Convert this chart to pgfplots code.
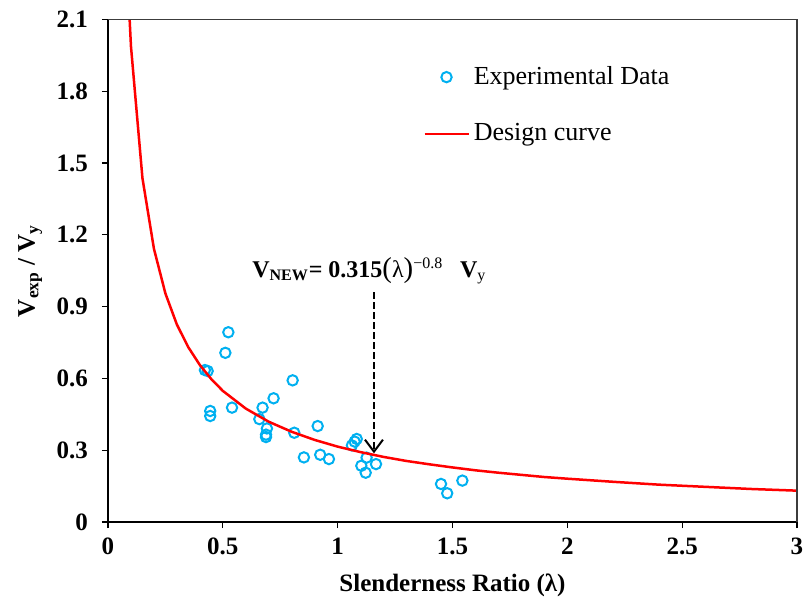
\documentclass[border=0pt]{standalone}
\usepackage{fontspec}
\setmainfont{Liberation Serif}
\usepackage{pgfplots}
\pgfplotsset{compat=1.18}
\usetikzlibrary{arrows.meta,calc}
\definecolor{expblue}{RGB}{0,176,240}
\definecolor{curvered}{RGB}{255,0,0}
\definecolor{framegray}{RGB}{60,60,60}
\pgfplotsset{
    lineleg/.style={legend image code/.code={\draw[##1] (0pt,0pt) -- (22pt,0pt);}},
    markleg/.style={legend image code/.code={\draw[mark repeat=2,mark phase=2,##1]
        plot coordinates {(0pt,0pt) (11pt,0pt) (22pt,0pt)};}},
}

\begin{document}
\begin{tikzpicture}
\begin{axis}[
    name=ax, scale only axis,
    width=344.5pt, height=251.25pt,
    xmin=0, xmax=3, ymin=0, ymax=2.1,
    xtick={0,0.5,1,1.5,2,2.5,3},
    ytick={0,0.3,0.6,0.9,1.2,1.5,1.8,2.1},
    yticklabels={0,0.3,0.6,0.9,1.2,1.5,1.8,2.1},
    tick align=outside, xtick pos=left, ytick pos=left,
    major tick length=3pt,
    clip mode=individual,
    axis line style={line width=0.6pt},
    tick style={black, line width=0.6pt},
    /pgf/number format/assume math mode=true,
    ticklabel style={font=\fontsize{12.5}{14}\selectfont\bfseries},
    xticklabel style={yshift=-1.5pt},
    yticklabel style={xshift=-3.5pt},
    xlabel={\textbf{Slenderness Ratio (λ)}},
    ylabel={\textbf{V\textsubscript{exp} / V\textsubscript{y}}},
    label style={font=\fontsize{12.5}{14}\selectfont},
    xlabel style={at={(axis description cs:0.5,0)}, anchor=base, yshift=-34.5pt},
    ylabel style={at={(axis description cs:-0.113,0.5)}, anchor=center},
    legend style={draw=none, fill=none, at={(0.457,0.915)}, anchor=north west,
        font=\fontsize{13}{15}\selectfont, row sep=14pt, inner sep=0pt},
    legend cell align=left,
]
% experimental data
\addplot[only marks, mark=o, mark size=2.6pt, color=expblue,
    mark options={line width=1pt}, markleg]
coordinates {
    (0.524,0.793) (0.511,0.707) (0.422,0.635) (0.434,0.631)
    (0.445,0.464) (0.445,0.443) (0.540,0.478) (0.804,0.592)
    (0.721,0.517) (0.673,0.478) (0.659,0.430) (0.692,0.391)
    (0.688,0.365) (0.688,0.355) (0.811,0.373) (0.913,0.401)
    (0.853,0.270) (0.924,0.281) (0.962,0.263) (1.083,0.347)
    (1.074,0.336) (1.062,0.320) (1.126,0.269) (1.167,0.242)
    (1.103,0.235) (1.122,0.206) (1.450,0.159) (1.477,0.120)
    (1.543,0.173)
};
\addlegendentry{Experimental Data}
% design curve
\addplot[color=curvered, line width=1.25pt, lineleg]
coordinates {
    (0.08,2.376) (0.10,1.988) (0.15,1.437) (0.20,1.142) (0.25,0.955)
    (0.30,0.825) (0.35,0.730) (0.40,0.656) (0.45,0.597) (0.50,0.548)
    (0.60,0.474) (0.70,0.419) (0.80,0.377) (0.90,0.343) (1.00,0.315)
    (1.10,0.292) (1.20,0.272) (1.30,0.255) (1.40,0.241) (1.50,0.228)
    (1.60,0.216) (1.70,0.206) (1.80,0.197) (1.90,0.188) (2.00,0.181)
    (2.20,0.168) (2.40,0.156) (2.60,0.147) (2.80,0.138) (3.00,0.131)
};
\addlegendentry{Design curve}
% frame top and right
\draw[framegray, line width=0.6pt] (rel axis cs:0,1) -- (rel axis cs:1,1) -- (rel axis cs:1,0);
% annotation
\node[anchor=base, font=\fontsize{12}{14}\selectfont] at (axis cs:1.138,1.023)
    {\textbf{V}\textsubscript{\textbf{NEW}}\textbf{= 0.315}{\Large(}λ{\Large)}\textsuperscript{−0.8}\hspace{0.7em}\textbf{V}\textsubscript{y}};
\draw[black, line width=1pt, dash pattern=on 3.5pt off 1.5pt,
    -{Straight Barb[length=6pt,width=9pt]}]
    (axis cs:1.158,0.96) -- (axis cs:1.158,0.287);
\end{axis}
\pgfresetboundingbox
\path ($(ax.south west)+(-54pt,-42.5pt)$) rectangle ($(ax.north east)+(4pt,9.75pt)$);
\end{tikzpicture}
\end{document}
